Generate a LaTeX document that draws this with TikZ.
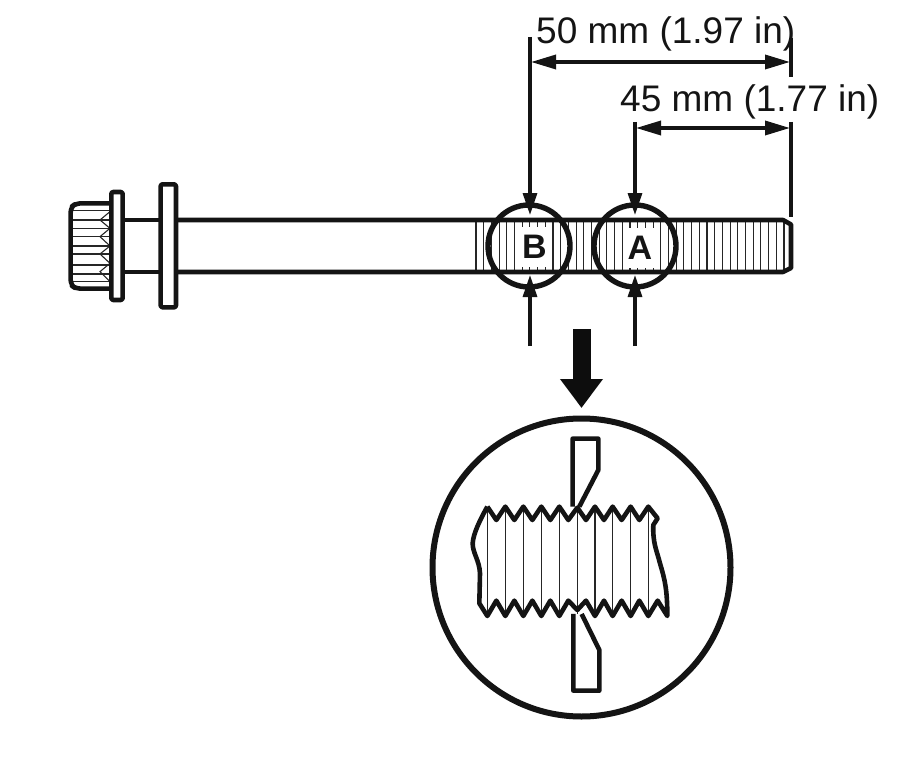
\documentclass[tikz,border=0pt]{standalone}
\usepackage{fontspec}
\setmainfont{Liberation Sans}
\usetikzlibrary{arrows.meta}
\tikzset{
  heavy/.style={line width=4.6pt,black!92,line join=round},
  medium/.style={line width=3.2pt,black!92},
  hair/.style={line width=1.1pt,black!85},
  lens/.style={circle,draw=black!92,line width=5.4pt,minimum size=82pt,inner sep=0pt},
  letter/.style={fill=white,inner sep=0pt,minimum width=32pt,minimum height=40pt,font=\fontsize{34}{36}\selectfont\bfseries,text=black!92},
  dimtext/.style={anchor=base west,inner sep=0pt,font=\fontsize{37}{40}\selectfont,text=black!92},
  leader/.style={medium,-{Triangle[length=22pt,width=14pt]}},
  dimline/.style={line width=3.4pt,black!92,{Triangle[length=25pt,width=14pt]}-{Triangle[length=25pt,width=14pt]}},
  bigarrow/.style={line width=18pt,black!95,-{Triangle[length=29pt,width=41pt]}},
}
\begin{document}
\begin{tikzpicture}[x=1pt,y=-1pt]
\useasboundingbox (0,0) rectangle (913,765);
\fill[white] (0,0) rectangle (913,765);

% thread hatching on the shank
\foreach \tx in {476,483.7,...,785}{\draw[hair] (\tx,220) -- (\tx,272);}

% shank
\draw[heavy] (176,220) -- (783,220) -- (791,224.5) -- (791,268) -- (783,272) -- (176,272);
\draw[heavy] (123,220) -- (160,220);
\draw[heavy] (123,272) -- (160,272);

% head, collar and washer
\begin{scope}[shift={(50,170)},x=0.3333pt,y=-0.3333pt]
  \foreach \hy in {122,150,175,200,228,252,285,312,335}{\draw[hair] (68,\hy) -- (178,\hy);}
  \draw[hair] (180,125) -- (150,150) -- (180,175) -- (150,200) -- (180,228) -- (150,252) -- (180,280) -- (150,305) -- (180,335);
  \draw[heavy,rounded corners=5pt] (184,100) -- (78,100) -- (62,112) -- (62,345) -- (78,356) -- (184,356);
  \draw[heavy,rounded corners=2pt,fill=white] (184,66) rectangle (218,390);
  \draw[heavy,rounded corners=2pt,fill=white] (332,43) rectangle (378,412);
\end{scope}

% lenses
\node[lens] (lensB) at (529,246) {};
\node[lens] (lensA) at (635,246) {};
\node[letter] (letB) at (534.5,247) {B};
\node[letter] (letA) at (640,248) {A};

% leaders
\coordinate (bTop) at (530,37);
\coordinate (bTip) at (530,215);
\coordinate (aTop) at (635,122);
\coordinate (aTip) at (635,215);
\coordinate (bLow) at (530,346);
\coordinate (bEnd) at (530,275);
\coordinate (aLow) at (635,346);
\coordinate (aEnd) at (635,275);
\draw[leader] (bTop) -- (bTip);
\draw[leader] (aTop) -- (aTip);
\draw[leader] (bLow) -- (bEnd);
\draw[leader] (aLow) -- (aEnd);

% extension lines on the right
\coordinate (r1) at (791,38);
\coordinate (r2) at (791,77);
\coordinate (r3) at (791,122);
\coordinate (r4) at (791,217);
\draw[medium] (r1) -- (r2);
\draw[medium] (r3) -- (r4);

% dimensions
\coordinate (d50a) at (531,62);
\coordinate (d50b) at (790,62);
\coordinate (d45a) at (636,128);
\coordinate (d45b) at (790,128);
\draw[dimline] (d50a) -- (d50b);
\draw[dimline] (d45a) -- (d45b);
\node[dimtext] (t50) at (536,44) {50 mm (1.97 in)};
\node[dimtext] (t45) at (620,112) {45 mm (1.77 in)};

% big arrow
\coordinate (bigA) at (581.5,329);
\coordinate (bigB) at (581.5,408);
\draw[bigarrow] (bigA) -- (bigB);

% detail circle
\node[circle,draw=black!92,line width=6pt,minimum size=298pt,inner sep=0pt] (detail) at (581.5,567.5) {};

% detail contents
\begin{scope}[shift={(430,410)},x=0.3333pt,y=-0.3333pt]
  \foreach \px in {172,226,280,334,388,442,495,548,602,655}{\draw[hair] (\px,295) -- (\px,612);}
  \draw[heavy]
    (428,290) -- (428,86) -- (505,86) -- (505,180) -- (448,290);
  \draw[heavy]
    (430,612) -- (430,842) -- (508,842) -- (508,720) -- (455,612);
  \draw[heavy]
    (172,290) -- (199,330) -- (226,290) -- (253,330) -- (280,290) -- (307,330) -- (334,290) -- (361,330) -- (388,290) -- (415,330) -- (442,293) -- (468,330) -- (495,290) -- (522,330) -- (548,290) -- (575,330) -- (602,290) -- (628,330) -- (655,290) -- (683,325) -- (670,345)
    .. controls (668,400) and (680,420) .. (690,460)
    .. controls (705,510) and (712,540) .. (712,618)
    -- (683,572) -- (655,618) -- (628,572) -- (602,618) -- (575,572) -- (548,618) -- (522,572) -- (495,618) -- (468,572) -- (442,600) -- (415,572) -- (388,618) -- (361,572) -- (334,618) -- (307,572) -- (280,618) -- (253,572) -- (226,618) -- (199,572) -- (172,618) -- (148,580) -- (150,490)
    .. controls (148,450) and (128,430) .. (128,400)
    .. controls (130,370) and (150,330) .. (172,290);
\end{scope}
\end{tikzpicture}
\end{document}
